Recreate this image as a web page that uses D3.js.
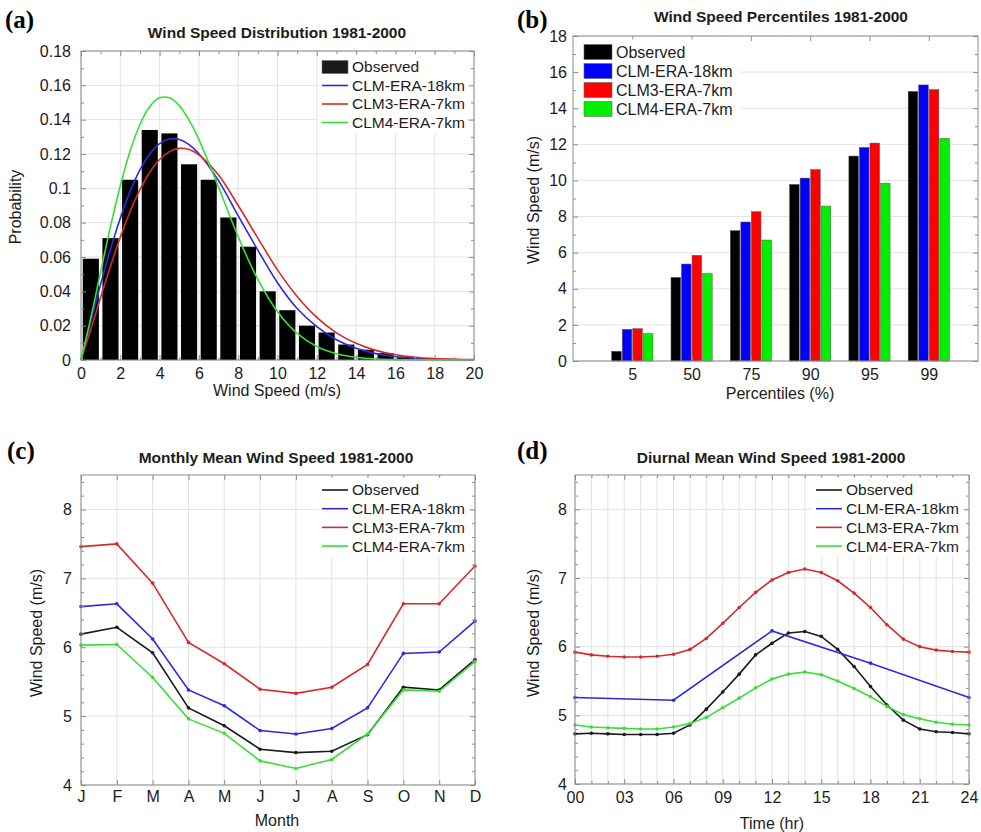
<!DOCTYPE html>
<html>
<head>
<meta charset="utf-8">
<script src="https://cdn.jsdelivr.net/npm/d3@7"></script>
<style>
  body { margin: 0; background: #fff; }
  text { font-family: "Liberation Sans", Arial, sans-serif; fill: #1c1c1c; }
  .plabel { font-family: "Liberation Serif", "Times New Roman", serif; font-weight: bold; font-size: 25px; fill: #000; }
  .title { font-weight: bold; font-size: 15.5px; }
</style>
</head>
<body>
<div id="chart"></div>
<script>
// ---- data ----

// (a) wind speed distribution
const binCenters = [0.5, 1.5, 2.5, 3.5, 4.5, 5.5, 6.5, 7.5, 8.5, 9.5, 10.5, 11.5, 12.5, 13.5, 14.5, 15.5, 16.5, 17.5, 18.5];
const obsProb = [0.059, 0.071, 0.105, 0.134, 0.132, 0.114, 0.105, 0.083, 0.066, 0.040, 0.029, 0.020, 0.016, 0.009, 0.006, 0.004, 0.002, 0.001, 0.0005];
const fitSpeed = [0, 0.5, 1, 1.5, 2, 2.5, 3, 3.5, 4, 4.5, 5, 5.5, 6, 7, 8, 9, 10, 11, 12, 13, 14, 15, 16, 17, 18, 19, 20];
const fitClm18 = [0, 0.0225, 0.0442, 0.0645, 0.0826, 0.0982, 0.1107, 0.1200, 0.1260, 0.1287, 0.1285, 0.1255, 0.1202, 0.1045, 0.0840, 0.0640, 0.0450, 0.0300, 0.0195, 0.0118, 0.0068, 0.0037, 0.0019, 0.0009, 0.0004, 0.0002, 0.0001];
const fitClm3 = [0, 0.0179, 0.0365, 0.0546, 0.0715, 0.0865, 0.0992, 0.1094, 0.1168, 0.1214, 0.1233, 0.1226, 0.1195, 0.1077, 0.0900, 0.0710, 0.0525, 0.0370, 0.0248, 0.0158, 0.0097, 0.0056, 0.0031, 0.0016, 0.0008, 0.0004, 0.0002];
const fitClm4 = [0, 0.0245, 0.0514, 0.0777, 0.1015, 0.1217, 0.1372, 0.1476, 0.1527, 0.1527, 0.1482, 0.1397, 0.1284, 0.1006, 0.0718, 0.0469, 0.0281, 0.0155, 0.0079, 0.0037, 0.0016, 0.0006, 0.0002, 0.0001, 0, 0, 0];
const probTicks = [0, 0.02, 0.04, 0.06, 0.08, 0.1, 0.12, 0.14, 0.16, 0.18];
const speedTicks = [0, 2, 4, 6, 8, 10, 12, 14, 16, 18, 20];

// (b) percentiles
const pctLabels = ["5", "50", "75", "90", "95", "99"];
const pctObs   = [0.54, 4.63, 7.22, 9.78, 11.35, 14.93];
const pctClm18 = [1.75, 5.37, 7.70, 10.13, 11.83, 15.29];
const pctClm3  = [1.79, 5.85, 8.27, 10.60, 12.07, 15.03];
const pctClm4  = [1.51, 4.84, 6.70, 8.58, 9.84, 12.33];
const pctTicks = [0, 2, 4, 6, 8, 10, 12, 14, 16, 18];

// (c) monthly means
const months   = ["J", "F", "M", "A", "M", "J", "J", "A", "S", "O", "N", "D"];
const monObs   = [6.19, 6.29, 5.92, 5.12, 4.86, 4.52, 4.47, 4.49, 4.73, 5.42, 5.38, 5.82];
const monClm18 = [6.59, 6.63, 6.12, 5.38, 5.15, 4.79, 4.74, 4.82, 5.12, 5.91, 5.93, 6.38];
const monClm3  = [7.46, 7.50, 6.93, 6.07, 5.76, 5.39, 5.33, 5.42, 5.75, 6.63, 6.63, 7.18];
const monClm4  = [6.03, 6.04, 5.56, 4.96, 4.75, 4.35, 4.24, 4.37, 4.74, 5.38, 5.36, 5.79];
const meanTicks = [4, 5, 6, 7, 8];

// (d) diurnal means
const hours   = [0, 1, 2, 3, 4, 5, 6, 7, 8, 9, 10, 11, 12, 13, 14, 15, 16, 17, 18, 19, 20, 21, 22, 23, 24];
const hrObs   = [4.73, 4.74, 4.73, 4.72, 4.72, 4.72, 4.74, 4.86, 5.09, 5.34, 5.60, 5.88, 6.05, 6.20, 6.22, 6.15, 5.96, 5.71, 5.42, 5.15, 4.93, 4.80, 4.76, 4.75, 4.73];
const hrClm3  = [5.92, 5.88, 5.86, 5.85, 5.85, 5.86, 5.89, 5.96, 6.12, 6.34, 6.57, 6.79, 6.97, 7.08, 7.13, 7.08, 6.96, 6.78, 6.57, 6.32, 6.11, 6.00, 5.95, 5.93, 5.92];
const hrClm4  = [4.86, 4.83, 4.82, 4.81, 4.80, 4.80, 4.83, 4.88, 4.97, 5.11, 5.25, 5.40, 5.53, 5.60, 5.63, 5.59, 5.50, 5.39, 5.27, 5.13, 5.01, 4.95, 4.90, 4.87, 4.86];
const hrClm18Hours = [0, 6, 12, 18, 24];
const hrClm18 = [5.26, 5.22, 6.23, 5.76, 5.26];
const hourTicks = [0, 3, 6, 9, 12, 15, 18, 21, 24];

const seriesNames = ["Observed", "CLM-ERA-18km", "CLM3-ERA-7km", "CLM4-ERA-7km"];

// ---- styles ----
const lineColors = ["#1a1a1a", "#2b2bdc", "#d42a2a", "#35e035"];
const barColors = ["#000000", "#0000ff", "#ff0000", "#00f000"];
const gridColor = "#e3e3e3", frameColor = "#8d8d8d";

const svg = d3.select("#chart").append("svg")
  .attr("width", 981).attr("height", 832)
  .style("background", "#fff");

// light grid behind the data
function grid(x, y, xs, ys) {
  const [yb, yt] = y.range(), [xl, xr] = x.range();
  const g = svg.append("g").attr("stroke", gridColor).attr("stroke-width", 1);
  g.selectAll(null).data(xs).join("line")
    .attr("x1", d => x(d)).attr("x2", d => x(d)).attr("y1", yb).attr("y2", yt);
  g.selectAll(null).data(ys).join("line")
    .attr("y1", d => y(d)).attr("y2", d => y(d)).attr("x1", xl).attr("x2", xr);
}

// frame with inward ticks on all four sides, labels left and bottom
function frame(x, y, o) {
  const [yb, yt] = y.range(), [xl, xr] = x.range();
  const put = (axis, tx, ty, size, fmt, pad) => {
    const g = svg.append("g").attr("transform", `translate(${tx},${ty})`)
      .call(axis.tickSize(-size).tickSizeOuter(0).tickPadding(pad || 3).tickFormat(fmt));
    g.select(".domain").remove();
    g.attr("font-size", 16).attr("color", frameColor);
    return g;
  };
  if (o.xMinor) {
    put(d3.axisBottom(x).tickValues(o.xMinor), 0, yb, 3, "");
    put(d3.axisTop(x).tickValues(o.xMinor), 0, yt, 3, "");
  }
  if (o.yMinor) {
    put(d3.axisLeft(y).tickValues(o.yMinor), xl, 0, 3, "");
    put(d3.axisRight(y).tickValues(o.yMinor), xr, 0, 3, "");
  }
  put(d3.axisBottom(x).tickValues(o.xTicks), 0, yb, 5, o.xFmt, o.xPad);
  put(d3.axisTop(x).tickValues(o.xTicks), 0, yt, 5, "");
  put(d3.axisLeft(y).tickValues(o.yTicks), xl, 0, 5, o.yFmt, o.yPad);
  put(d3.axisRight(y).tickValues(o.yTicks), xr, 0, 5, "");
  svg.append("rect").attr("x", xl).attr("y", yt).attr("width", xr - xl).attr("height", yb - yt)
    .attr("fill", "none").attr("stroke", frameColor).attr("stroke-width", 1);
}

function texts(label, lx, ly, title, tx, ty, xTitle, xtx, xty, yTitle, ytx, yty) {
  svg.append("text").attr("class", "plabel").attr("x", lx).attr("y", ly).text(label);
  svg.append("text").attr("class", "title").attr("x", tx).attr("y", ty)
    .attr("text-anchor", "middle").attr("dy", "0.35em").text(title);
  svg.append("text").attr("x", xtx).attr("y", xty).attr("font-size", 16)
    .attr("text-anchor", "middle").attr("dy", "0.35em").text(xTitle);
  svg.append("text").attr("transform", `translate(${ytx},${yty}) rotate(-90)`).attr("font-size", 16)
    .attr("text-anchor", "middle").attr("dy", "0.35em").text(yTitle);
}

// legend with a patch (bars) or a short line
function legend(x0, y0, dy, kinds, colors, opts) {
  const g = svg.append("g");
  g.append("rect").attr("x", x0 - 4).attr("y", y0 - dy / 2 - 3)
    .attr("width", opts.w).attr("height", dy * 4 + 4).attr("fill", "#fff");
  seriesNames.forEach((name, i) => {
    const cy = y0 + i * dy;
    if (kinds[i] === "patch") {
      g.append("rect").attr("x", x0).attr("y", cy - opts.ph / 2).attr("width", opts.pw).attr("height", opts.ph)
        .attr("fill", colors[i]).attr("stroke", "#666").attr("stroke-width", 0.6);
    } else {
      g.append("line").attr("x1", x0).attr("x2", x0 + opts.pw).attr("y1", cy).attr("y2", cy)
        .attr("stroke", colors[i]).attr("stroke-width", 1.6);
    }
    g.append("text").attr("x", x0 + opts.pw + opts.gap).attr("y", cy).attr("dy", "0.35em")
      .attr("font-size", opts.fs).text(name);
  });
}

const fmtTick = d => String(+d.toFixed(2));

// ================= (a) =================
{
  const x = d3.scaleLinear().domain([0, 20]).range([81, 474]);
  const y = d3.scaleLinear().domain([0, 0.18]).range([360, 51]);
  grid(x, y, speedTicks, probTicks);
  const bw = 0.82;
  svg.append("g").selectAll("rect").data(obsProb).join("rect")
    .attr("x", (d, i) => x(binCenters[i] - bw / 2))
    .attr("width", (d, i) => x(binCenters[i] + bw / 2) - x(binCenters[i] - bw / 2))
    .attr("y", d => y(d)).attr("height", d => y(0) - y(d))
    .attr("fill", "#000");
  const line = d3.line().x((d, i) => x(fitSpeed[i])).y(d => y(d)).curve(d3.curveCatmullRom.alpha(0.5));
  [fitClm18, fitClm3, fitClm4].forEach((s, k) => {
    svg.append("path").datum(s).attr("d", line).attr("fill", "none")
      .attr("stroke", lineColors[k + 1]).attr("stroke-width", 1.6);
  });
  frame(x, y, {
    xTicks: speedTicks, yTicks: probTicks, xFmt: d3.format("d"), yFmt: fmtTick,
    xMinor: d3.range(1, 20, 2), yMinor: d3.range(0.01, 0.18, 0.02), xPad: 8, yPad: 10
  });
  legend(322, 67, 18.5, ["patch", "line", "line", "line"], lineColors,
    { w: 150, pw: 26, ph: 13, gap: 4, fs: 15.5 });
  texts("(a)", 5, 28, "Wind Speed Distribution 1981-2000", 277, 33,
    "Wind Speed (m/s)", 277, 390, "Probability", 15, 207);
}

// ================= (b) =================
{
  const x = d3.scaleLinear().domain([0, 6.83]).range([573, 978]);
  const y = d3.scaleLinear().domain([0, 18]).range([361, 36]);
  grid(x, y, [], pctTicks);
  const sub = d3.scaleBand().domain(seriesNames).range([-20.6, 20.6]).paddingInner(0.09);
  const pos = pctLabels.map((d, i) => i + 1);
  [pctObs, pctClm18, pctClm3, pctClm4].forEach((s, k) => {
    svg.append("g").selectAll("rect").data(s).join("rect")
      .attr("x", (d, i) => x(pos[i]) + sub(seriesNames[k]))
      .attr("width", sub.bandwidth())
      .attr("y", d => y(d)).attr("height", d => y(0) - y(d))
      .attr("fill", barColors[k]).attr("stroke", "#555").attr("stroke-width", 0.5);
  });
  frame(x, y, {
    xTicks: pos, yTicks: pctTicks, xFmt: (d, i) => pctLabels[i], yFmt: d3.format("d"),
    yMinor: d3.range(1, 18, 2), xPad: 8, yPad: 6
  });
  legend(584, 52, 19, ["patch", "patch", "patch", "patch"], barColors,
    { w: 160, pw: 28, ph: 15, gap: 4, fs: 16 });
  texts("(b)", 517, 28, "Wind Speed Percentiles 1981-2000", 781, 17,
    "Percentiles (%)", 780, 393, "Wind Speed (m/s)", 533, 200);
}

// line panels (c) and (d)
function linePanel(x, y, xsList, seriesList) {
  seriesList.forEach((s, k) => {
    const xs = xsList[k];
    const line = d3.line().x((d, i) => x(xs[i])).y(d => y(d));
    svg.append("path").datum(s).attr("d", line).attr("fill", "none")
      .attr("stroke", lineColors[k]).attr("stroke-width", 1.6);
    svg.append("g").selectAll("circle").data(s).join("circle")
      .attr("cx", (d, i) => x(xs[i])).attr("cy", d => y(d)).attr("r", 1.8)
      .attr("fill", lineColors[k]);
  });
}

// ================= (c) =================
{
  const idx = months.map((d, i) => i);
  const x = d3.scaleLinear().domain([0, 11]).range([81, 475]);
  const y = d3.scaleLinear().domain([4, 8.5]).range([785, 475]);
  grid(x, y, idx, meanTicks);
  linePanel(x, y, [idx, idx, idx, idx], [monObs, monClm18, monClm3, monClm4]);
  frame(x, y, {
    xTicks: idx, yTicks: meanTicks, xFmt: (d, i) => months[i], yFmt: d3.format("d"),
    yMinor: d3.range(4.2, 8.5, 0.2).filter(v => Math.abs(v - Math.round(v)) > 0.01),
    xPad: 6, yPad: 9
  });
  legend(322, 490, 18.7, ["line", "line", "line", "line"], lineColors,
    { w: 150, pw: 26, ph: 13, gap: 4, fs: 15.5 });
  texts("(c)", 7, 459, "Monthly Mean Wind Speed 1981-2000", 276, 458,
    "Month", 277, 820, "Wind Speed (m/s)", 36, 633);
}

// ================= (d) =================
{
  const x = d3.scaleLinear().domain([0, 24]).range([575, 969]);
  const y = d3.scaleLinear().domain([4, 8.5]).range([784, 475]);
  grid(x, y, hours, meanTicks);
  linePanel(x, y, [hours, hrClm18Hours, hours, hours], [hrObs, hrClm18, hrClm3, hrClm4]);
  frame(x, y, {
    xTicks: hourTicks, yTicks: meanTicks, xFmt: d3.format("02d"), yFmt: d3.format("d"),
    xMinor: hours.filter(h => h % 3 !== 0),
    yMinor: d3.range(4.2, 8.5, 0.2).filter(v => Math.abs(v - Math.round(v)) > 0.01),
    xPad: 8, yPad: 8
  });
  legend(816, 490, 18.7, ["line", "line", "line", "line"], lineColors,
    { w: 150, pw: 26, ph: 13, gap: 4, fs: 15.5 });
  texts("(d)", 517, 459, "Diurnal Mean Wind Speed 1981-2000", 771, 458,
    "Time (hr)", 772, 823, "Wind Speed (m/s)", 533, 633);
}
</script>
</body>
</html>
